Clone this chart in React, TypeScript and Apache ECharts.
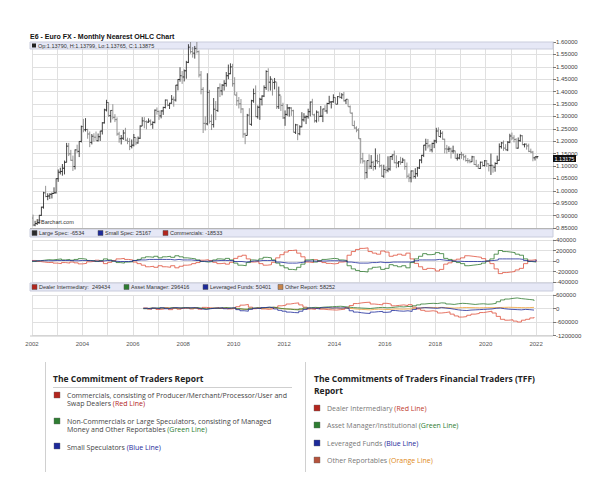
import React, { useEffect, useRef } from 'react';
import * as echarts from 'echarts';

// ---------------- DATA ----------------
const START_YEAR = 2002;
const firstOpen = 0.89;
// monthly closes Jan 2002 .. Jan 2022
const priceClose = [
  0.862,0.868,0.872,0.901,0.934,0.992,0.977,0.979,0.986,0.989,0.992,1.049,
  1.075,1.078,1.091,1.115,1.180,1.149,1.123,1.098,1.165,1.159,1.199,1.259,
  1.246,1.247,1.229,1.195,1.220,1.216,1.202,1.218,1.241,1.274,1.326,1.356,
  1.303,1.324,1.296,1.287,1.229,1.210,1.212,1.233,1.204,1.199,1.179,1.184,
  1.215,1.193,1.212,1.261,1.282,1.279,1.277,1.281,1.268,1.276,1.325,1.320,
  1.302,1.322,1.336,1.366,1.345,1.353,1.369,1.366,1.426,1.449,1.464,1.459,
  1.484,1.518,1.579,1.561,1.555,1.574,1.561,1.467,1.409,1.272,1.270,1.397,
  1.280,1.267,1.329,1.324,1.415,1.403,1.426,1.433,1.464,1.472,1.500,1.432,
  1.386,1.363,1.351,1.330,1.229,1.223,1.305,1.268,1.363,1.392,1.299,1.337,
  1.369,1.382,1.416,1.481,1.438,1.450,1.437,1.439,1.339,1.386,1.344,1.294,
  1.308,1.334,1.334,1.323,1.236,1.266,1.230,1.258,1.286,1.297,1.299,1.319,
  1.358,1.306,1.282,1.317,1.300,1.301,1.330,1.322,1.352,1.358,1.359,1.376,
  1.349,1.380,1.377,1.387,1.363,1.369,1.339,1.313,1.263,1.253,1.245,1.210,
  1.129,1.120,1.073,1.122,1.099,1.115,1.098,1.121,1.118,1.101,1.059,1.086,
  1.083,1.088,1.138,1.145,1.113,1.112,1.117,1.115,1.124,1.098,1.059,1.052,
  1.080,1.058,1.069,1.092,1.124,1.143,1.184,1.191,1.181,1.165,1.191,1.201,
  1.241,1.219,1.232,1.208,1.169,1.168,1.169,1.160,1.161,1.131,1.132,1.147,
  1.145,1.137,1.122,1.121,1.117,1.137,1.106,1.099,1.090,1.115,1.102,1.121,
  1.109,1.102,1.103,1.095,1.110,1.123,1.178,1.193,1.172,1.165,1.196,1.221,
  1.213,1.207,1.172,1.202,1.222,1.186,1.188,1.181,1.159,1.156,1.133,1.137,
  1.138,
];
const priceHigh = [
  0.904,0.879,0.886,0.903,0.936,0.996,1.020,0.990,0.990,0.993,1.014,1.050,
  1.086,1.093,1.108,1.122,1.193,1.193,1.165,1.142,1.167,1.186,1.200,1.263,
  1.290,1.293,1.250,1.239,1.229,1.232,1.239,1.231,1.242,1.277,1.331,1.367,
  1.357,1.325,1.349,1.309,1.296,1.238,1.225,1.245,1.254,1.214,1.212,1.207,
  1.229,1.215,1.219,1.264,1.297,1.297,1.284,1.292,1.288,1.280,1.328,1.336,
  1.324,1.325,1.339,1.368,1.368,1.355,1.386,1.380,1.427,1.450,1.498,1.483,
  1.489,1.524,1.591,1.604,1.580,1.584,1.604,1.566,1.483,1.418,1.300,1.474,
  1.407,1.308,1.374,1.362,1.418,1.433,1.430,1.446,1.479,1.509,1.514,1.512,
  1.458,1.398,1.378,1.370,1.333,1.234,1.310,1.333,1.367,1.412,1.425,1.344,
  1.375,1.385,1.425,1.486,1.494,1.462,1.449,1.455,1.438,1.420,1.383,1.355,
  1.324,1.349,1.338,1.337,1.327,1.270,1.269,1.264,1.317,1.313,1.304,1.331,
  1.360,1.371,1.311,1.324,1.320,1.342,1.331,1.345,1.355,1.383,1.361,1.389,
  1.377,1.382,1.397,1.394,1.399,1.370,1.369,1.344,1.316,1.283,1.260,1.252,
  1.212,1.153,1.123,1.122,1.147,1.144,1.121,1.171,1.146,1.149,1.106,1.105,
  1.099,1.139,1.140,1.146,1.162,1.143,1.120,1.137,1.133,1.127,1.114,1.070,
  1.082,1.083,1.091,1.096,1.127,1.145,1.185,1.210,1.209,1.188,1.194,1.206,
  1.254,1.256,1.245,1.240,1.210,1.185,1.179,1.174,1.182,1.162,1.150,1.148,
  1.157,1.149,1.145,1.132,1.127,1.141,1.140,1.125,1.108,1.118,1.118,1.124,
  1.124,1.110,1.150,1.104,1.115,1.142,1.191,1.197,1.203,1.188,1.200,1.230,
  1.235,1.224,1.212,1.215,1.227,1.224,1.191,1.191,1.190,1.170,1.161,1.138,
  1.140,
];
const priceLow = [
  0.857,0.857,0.862,0.868,0.899,0.928,0.974,0.962,0.967,0.969,0.988,0.989,
  1.036,1.066,1.061,1.066,1.114,1.140,1.121,1.080,1.086,1.153,1.136,1.195,
  1.236,1.239,1.210,1.176,1.187,1.198,1.202,1.199,1.201,1.227,1.271,1.320,
  1.298,1.275,1.288,1.277,1.222,1.194,1.187,1.205,1.201,1.188,1.164,1.171,
  1.179,1.184,1.190,1.209,1.261,1.252,1.248,1.274,1.263,1.250,1.272,1.307,
  1.286,1.292,1.306,1.332,1.341,1.330,1.351,1.339,1.360,1.405,1.440,1.431,
  1.441,1.452,1.515,1.553,1.537,1.533,1.554,1.457,1.389,1.233,1.243,1.264,
  1.271,1.245,1.255,1.285,1.318,1.378,1.385,1.404,1.420,1.450,1.470,1.420,
  1.386,1.343,1.332,1.313,1.214,1.188,1.223,1.267,1.262,1.355,1.297,1.291,
  1.286,1.344,1.378,1.407,1.401,1.404,1.384,1.409,1.330,1.330,1.322,1.290,
  1.262,1.302,1.299,1.302,1.235,1.229,1.204,1.224,1.256,1.279,1.269,1.291,
  1.300,1.306,1.275,1.275,1.279,1.298,1.277,1.318,1.311,1.349,1.332,1.355,
  1.349,1.349,1.373,1.370,1.360,1.350,1.339,1.313,1.263,1.250,1.236,1.210,
  1.110,1.110,1.046,1.051,1.087,1.088,1.081,1.086,1.109,1.094,1.056,1.052,
  1.071,1.075,1.081,1.124,1.111,1.091,1.095,1.105,1.112,1.085,1.051,1.035,
  1.034,1.049,1.049,1.057,1.088,1.111,1.136,1.162,1.171,1.157,1.155,1.172,
  1.192,1.219,1.214,1.206,1.151,1.150,1.156,1.130,1.150,1.130,1.122,1.127,
  1.129,1.123,1.118,1.111,1.111,1.116,1.104,1.096,1.088,1.088,1.098,1.098,
  1.097,1.078,1.064,1.073,1.077,1.107,1.121,1.170,1.161,1.163,1.160,1.192,
  1.205,1.195,1.170,1.170,1.198,1.184,1.175,1.166,1.156,1.152,1.119,1.122,
  1.130,
];
const priceTicks = [0.85, 1.6, 0.05];

// Legacy COT, net positions in thousands of contracts, every two months from Jan 2002
const largeSpec = [
  -10,5,15,25,20,30, 40,20,30,15,30,45, 35,10,5,-10,10,40, 20,-5,-30,-40,-20,-15,
  10,30,60,80,70,90, 60,80,90,70,100,80, 60,50,40,20,-10,-20, -10,20,40,30,50,20,
  -40,-80,-90,-30,20,10, 40,70,60,20,-40,-90, -130,-160,-170,-120,-60,20, 30,-20,10,30,40,50,
  40,20,10,-90,-150,-180, -200,-210,-150,-120,-110,-160, -140,-70,-90,-110,-90,-130,
  -30,40,90,140,120,130, 160,140,50,30,-10,-30, -50,-90,-80,-70,-60,-40,
  0,40,130,200,180,170, 160,130,110,40,-10,-20, -7,
];
const commercials = [
  10,-10,-20,-30,-25,-40, -50,-30,-40,-20,-35,-55, -45,-15,-5,15,-10,-50, -25,10,40,50,30,20,
  -20,-50,-80,-110,-100,-120, -90,-110,-120,-90,-130,-100, -80,-70,-50,-30,15,25, 10,-25,-50,-40,-60,-25,
  50,90,110,40,-20,-10, -50,-80,-70,-25,60,120, 170,200,210,150,80,-20, -30,25,-10,-30,-45,-55,
  -45,-20,-10,110,180,220, 240,250,180,150,130,190, 170,90,110,130,110,150,
  40,-45,-110,-160,-140,-150, -190,-160,-60,-35,15,35, 60,100,90,80,70,45,
  -5,-50,-150,-240,-220,-210, -200,-170,-140,-50,15,25, -19,
];
const smallSpec = [
  0,5,5,5,5,10, 10,10,10,5,5,10, 10,5,0,-5,0,10, 5,-5,-10,-10,-10,-5,
  10,20,20,30,30,30, 30,30,30,20,30,20, 20,20,10,10,-5,-5, 0,5,10,10,10,5,
  -10,-10,-20,-10,0,0, 10,10,10,5,-20,-30, -40,-40,-40,-30,-20,0, 0,-5,0,0,5,5,
  5,0,0,-20,-30,-40, -40,-40,-30,-30,-20,-30, -30,-20,-20,-20,-20,-20,
  -10,5,20,20,20,20, 30,20,10,5,-5,-5, -10,-10,-10,-10,-10,-5,
  5,10,20,40,40,40, 40,40,30,10,-5,-5, 25,
];
const cotTicks = [-400, 400, 200];

// TFF, net positions in thousands, every two months from Jun 2006
const TFF_START = 2006 + 5 / 12;
const dealer = [
  20,-30,10,-40,
  -20,30,-50,20,-30,10, 40,-20,30,-30,50,30, 10,40,0,30,-20,10,
  80,150,180,60,-10,30, -20,-40,-10,50,120,150, 200,230,250,160,60,-20,
  -40,20,-30,-50,-60,-70, -50,-30,40,130,220,250, 270,280,200,180,160,230,
  200,120,140,160,130,170, 60,-20,-80,-120,-100,-130, -200,-180,-150,-250,-330,-380,
  -360,-300,-250,-220,-180,-150, -120,-200,-350,-480,-520,-500, -560,-600,-520,-480,-420,-380,
];
const assetMgr = [
  -10,20,10,30,
  20,10,40,20,30,40, 30,20,40,10,-20,0, 20,10,30,40,20,30,
  -10,-30,-40,10,30,20, 40,50,60,30,0,-20, -30,-50,-60,-20,20,40,
  50,40,60,70,80,90, 100,80,60,40,30,20, 10,0,20,40,50,30,
  40,60,80,70,90,80, 120,160,200,220,230,220, 250,240,200,180,210,230,
  220,200,180,200,210,190, 200,230,300,380,420,450, 470,440,420,400,380,340,
];
const levFunds = [
  10,-20,20,-10,
  30,-10,20,40,10,30, 20,40,10,-20,-40,-10, 10,20,30,-10,20,30,
  -50,-100,-120,-40,10,0, 40,60,30,-20,-80,-120, -160,-180,-190,-120,-40,20,
  10,-20,30,40,20,30, 20,30,0,-100,-160,-190, -210,-220,-160,-140,-130,-170,
  -150,-90,-110,-120,-100,-130, -40,20,40,30,20,10, 40,20,0,-30,-60,-80,
  -90,-70,-60,-50,-40,-30, -20,10,20,-10,-30,-40, -50,-60,-40,-50,-70,-60,
];
const otherRep = [
  5,10,0,15,
  10,20,15,5,10,20, 15,10,5,0,-10,5, 10,15,20,10,5,15,
  -20,-40,-30,0,10,5, 15,20,25,10,-10,-20, -30,-40,-50,-30,-10,0,
  10,5,15,20,25,20, 15,10,5,-10,-30,-40, -50,-60,-40,-30,-35,-45,
  -40,-20,-25,-30,-20,-25, 10,30,40,50,45,40, 50,40,30,20,30,40,
  45,40,35,30,35,40, 35,40,45,50,55,50, 45,40,35,40,50,58,
];
const tffTicks = [-1200, 600, 600];

const yearLabels = ['2002','2004','2006','2008','2010','2012','2014','2016','2018','2020','2022'];

const mainTitle = 'E6 - Euro FX - Monthly Nearest OHLC Chart';
const quoteText = 'Op:1.13790, H:1.13799, Lo:1.13765, C:1.13875';
const lastPriceText = '1.13175';
const cotLegend = [
  { name: 'Large Spec: -6534', color: '#2b2b2b' },
  { name: 'Small Spec: 25167', color: '#1d2a9a' },
  { name: 'Commercials: -18533', color: '#b3261e' },
];
const tffLegend = [
  { name: 'Dealer Intermediary:  249434', color: '#b3261e' },
  { name: 'Asset Manager: 296416', color: '#2e7d32' },
  { name: 'Leveraged Funds: 50401', color: '#1d2a9a' },
  { name: 'Other Report: 58252', color: '#c8844a' },
];

// ---------------- COMPONENT ----------------
const FONT = 'Liberation Sans, Arial, sans-serif';
const FONT2 = '"Open Sans", sans-serif';
const PL = 32, PR = 553;

export default function App() {
  const ref = useRef<HTMLDivElement>(null);

  useEffect(() => {
    if (!ref.current) return;
    const chart = echarts.init(ref.current, undefined, { renderer: 'svg' });

    const ohlc = priceClose.map((c, i) => {
      const o = i === 0 ? firstOpen : priceClose[i - 1];
      return [START_YEAR + i / 12 + 0.04, o, priceHigh[i], priceLow[i], c];
    });
    const cotX = (i: number) => START_YEAR + i / 6;
    const tffX = (i: number) => TFF_START + i / 6;
    const lineSeries = (name: string, arr: number[], xf: (i: number) => number, idx: number, color: string) => ({
      name, type: 'line', xAxisIndex: idx, yAxisIndex: idx, step: 'end', symbol: 'none',
      data: arr.map((v, i) => [xf(i), v]),
      lineStyle: { color, width: 0.8 }, z: 3, silent: true,
    });

    const xAx = (i: number) => ({
      type: 'value', gridIndex: i, min: 2002, max: 2022.67, interval: 1,
      axisLine: { show: false }, axisTick: { show: false },
      axisLabel: {
        show: i === 2, fontSize: 6, color: '#555', fontFamily: FONT, margin: 5,
        formatter: (v: number) => (Number.isInteger(v) && yearLabels.includes(String(v)) ? String(v) : ''),
      },
      splitLine: { show: true, lineStyle: { color: '#e0e0e0', width: 1 } },
    });
    const yAx = (i: number, t: number[], fmt: (v: number) => string) => ({
      type: 'value', gridIndex: i, position: 'right', min: t[0], max: t[1], interval: t[2],
      axisLine: { show: true, lineStyle: { color: '#cccccc' } },
      axisTick: { show: true, length: 3, lineStyle: { color: '#777' } },
      axisLabel: { fontSize: 6, color: '#444', fontFamily: FONT, margin: 3, formatter: fmt },
      splitLine: { show: true, lineStyle: { color: '#e0e0e0', width: 1 } },
    });

    const band = (y: number, h: number) => ({
      type: 'rect', shape: { x: 30, y, width: PR - 30, height: h }, z: 1,
      style: { fill: '#e6e8f6', stroke: '#c9ccdc', lineWidth: 1 },
    });
    const bandItems = (items: { name: string; color: string }[], xs: number[], y: number) =>
      items.flatMap((it, k) => [
        { type: 'rect', shape: { x: xs[k], y: y - 2.5, width: 5, height: 5 }, z: 5, style: { fill: it.color, stroke: '#555', lineWidth: 0.5 } },
        { type: 'text', x: xs[k] + 7, y, z: 5, style: { text: it.name, fill: '#333', font: `5.5px ${FONT}`, verticalAlign: 'middle' } },
      ]);

    const sq = (x: number, y: number, color: string) => ({
      type: 'rect', shape: { x, y, width: 6, height: 6 }, style: { fill: color, stroke: '#666', lineWidth: 0.4 },
    });
    const txt = (x: number, y: number, text: string, fill: string) => ({
      type: 'text', x, y,
      style: { text, fill, font: `7px ${FONT2}`, lineHeight: 7, verticalAlign: 'middle' },
    });
    const richTxt = (x: number, y: number, text: string, fill: string, colored: string, cfill: string) => ({
      type: 'text', x, y,
      style: {
        text: `{a|${text}}{c|${colored}}`, verticalAlign: 'middle',
        rich: {
          a: { fill, fontSize: 7, fontFamily: 'Open Sans', lineHeight: 7 },
          c: { fill: cfill, fontSize: 7, fontFamily: 'Open Sans', lineHeight: 7 },
        },
      },
    });

    const option: any = {
      animation: false,
      backgroundColor: '#ffffff',
      grid: [
        { left: PL, right: 602 - PR, top: 42, height: 186 },
        { left: PL, right: 602 - PR, top: 240, height: 42 },
        { left: PL, right: 602 - PR, top: 295, height: 40.5 },
      ],
      xAxis: [xAx(0), xAx(1), xAx(2)],
      yAxis: [
        yAx(0, priceTicks, (v: number) => v.toFixed(5)),
        yAx(1, cotTicks, (v: number) => String(Math.round(v * 1000))),
        yAx(2, tffTicks, (v: number) => String(Math.round(v * 1000))),
      ],
      series: [
        {
          type: 'custom', xAxisIndex: 0, yAxisIndex: 0, data: ohlc, z: 3, silent: true, clip: true,
          encode: { x: 0, y: [1, 2, 3, 4] },
          renderItem: (params: any, api: any) => {
            const x = api.value(0), o = api.value(1), h = api.value(2), l = api.value(3), c = api.value(4);
            const pH = api.coord([x, h]), pL = api.coord([x, l]), pO = api.coord([x, o]), pC = api.coord([x, c]);
            const col = c >= o ? '#1a1a1a' : '#7a7a7a';
            const st = { stroke: col, lineWidth: 0.8 };
            return {
              type: 'group',
              children: [
                { type: 'line', shape: { x1: pH[0], y1: pH[1], x2: pL[0], y2: pL[1] }, style: st },
                { type: 'line', shape: { x1: pO[0] - 1.3, y1: pO[1], x2: pO[0], y2: pO[1] }, style: st },
                { type: 'line', shape: { x1: pC[0], y1: pC[1], x2: pC[0] + 1.3, y2: pC[1] }, style: st },
              ],
            };
          },
        },
        lineSeries('Commercials', commercials, cotX, 1, '#e0503c'),
        lineSeries('Large Spec', largeSpec, cotX, 1, '#2f7a2f'),
        lineSeries('Small Spec', smallSpec, cotX, 1, '#1d2a9a'),
        lineSeries('Other Report', otherRep, tffX, 2, '#f0a23a'),
        lineSeries('Dealer Intermediary', dealer, tffX, 2, '#e0503c'),
        lineSeries('Asset Manager', assetMgr, tffX, 2, '#2f7a2f'),
        lineSeries('Leveraged Funds', levFunds, tffX, 2, '#1d2a9a'),
      ],
      graphic: [
        { type: 'text', x: 30, y: 36, style: { text: mainTitle, fill: '#111', font: `bold 7px ${FONT}`, verticalAlign: 'middle' } },
        band(42, 7),
        { type: 'rect', shape: { x: 32, y: 43.5, width: 4, height: 4 }, z: 5, style: { fill: '#222' } },
        { type: 'text', x: 38, y: 45.8, z: 5, style: { text: quoteText, fill: '#333', font: `5.5px ${FONT}`, verticalAlign: 'middle' } },
        { type: 'text', x: 37, y: 222, z: 5, style: { text: '\u00A9Barchart.com', fill: '#333', font: `5.5px ${FONT}`, verticalAlign: 'middle' } },
        { type: 'rect', shape: { x: 553, y: 155, width: 23, height: 7 }, z: 6, style: { fill: '#111' } },
        { type: 'text', x: 554.5, y: 158.6, z: 7, style: { text: lastPriceText, fill: '#fff', font: `5.5px ${FONT}`, verticalAlign: 'middle' } },
        { type: 'line', shape: { x1: 30, y1: 228.5, x2: PR, y2: 228.5 }, z: 4, style: { stroke: '#b5b5b5', lineWidth: 1 } },
        band(229, 8),
        ...bandItems(cotLegend, [32, 98, 163], 233),
        band(283, 8),
        ...bandItems(tffLegend, [32, 124, 203, 278], 287),
        { type: 'line', shape: { x1: 30, y1: 336, x2: PR, y2: 336 }, z: 4, style: { stroke: '#c8c8c8', lineWidth: 1 } },

        // ---- bottom info boxes ----
        { type: 'line', shape: { x1: 45.5, y1: 362, x2: 45.5, y2: 472 }, style: { stroke: '#d0d0d0', lineWidth: 1 } },
        { type: 'line', shape: { x1: 305.5, y1: 362, x2: 305.5, y2: 472 }, style: { stroke: '#d0d0d0', lineWidth: 1 } },
        { type: 'text', x: 53, y: 378, style: { text: 'The Commitment of Traders Report', fill: '#222', font: `bold 8.5px ${FONT2}`, verticalAlign: 'middle' } },
        { type: 'line', shape: { x1: 53, y1: 387.5, x2: 292, y2: 387.5 }, style: { stroke: '#cfcfcf', lineWidth: 1 } },
        sq(54, 392, '#b3261e'),
        txt(67, 395, 'Commercials, consisting of Producer/Merchant/Processor/User and', '#444'),
        richTxt(67, 403, 'Swap Dealers ', '#444', '(Red Line)', '#b3261e'),
        sq(54, 418, '#2e7d32'),
        txt(67, 421, 'Non-Commercials or Large Speculators, consisting of Managed', '#444'),
        richTxt(67, 429, 'Money and Other Reportables ', '#444', '(Green Line)', '#2e7d32'),
        sq(54, 443, '#1d2a9a'),
        richTxt(67, 447, 'Small Speculators ', '#444', '(Blue Line)', '#1d2a9a'),

        { type: 'text', x: 314, y: 378, style: { text: 'The Commitments of Traders Financial Traders (TFF)', fill: '#222', font: `bold 8.5px ${FONT2}`, verticalAlign: 'middle' } },
        { type: 'text', x: 314, y: 390, style: { text: 'Report', fill: '#222', font: `bold 8.5px ${FONT2}`, verticalAlign: 'middle' } },
        sq(314, 405, '#b3261e'),
        richTxt(327, 408, 'Dealer Intermediary ', '#777', '(Red Line)', '#c0392b'),
        sq(314, 422, '#2e7d32'),
        richTxt(327, 425, 'Asset Manager/Institutional ', '#777', '(Green Line)', '#2e7d32'),
        sq(314, 440, '#1d2a9a'),
        richTxt(327, 443, 'Leveraged Funds ', '#777', '(Blue Line)', '#1d2a9a'),
        sq(314, 457, '#b5533c'),
        richTxt(327, 460, 'Other Reportables ', '#777', '(Orange Line)', '#e08a20'),
      ],
    };

    chart.setOption(option);
    return () => chart.dispose();
  }, []);

  return (
    <div
      ref={ref}
      style={{ position: 'absolute', left: 0, top: 0, width: 602, height: 497, background: '#fff' }}
    />
  );
}
